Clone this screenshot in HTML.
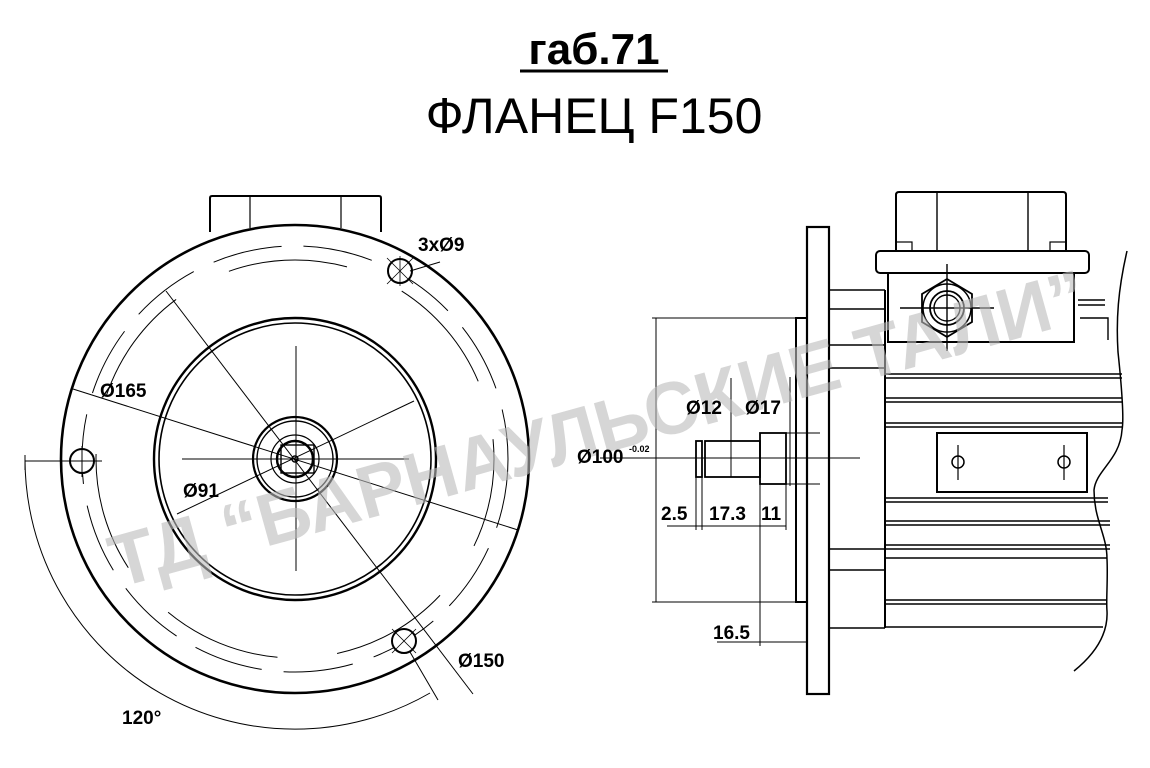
<!DOCTYPE html>
<html><head><meta charset="utf-8"><style>
html,body{margin:0;padding:0;background:#fff;}
svg{display:block;}
text{font-family:"Liberation Sans",Arial,sans-serif;fill:#000;}
</style></head><body>
<svg width="1150" height="768" viewBox="0 0 1150 768" xmlns="http://www.w3.org/2000/svg">

<!-- titles -->
<text x="594" y="64" font-size="44" font-weight="bold" text-anchor="middle">габ.71</text>
<line x1="520" y1="71" x2="668" y2="71" stroke="#000" stroke-width="3"/>
<text x="594" y="133" font-size="50" text-anchor="middle">ФЛАНЕЦ F150</text>

<g fill="none" stroke="#000">
<!-- LEFT VIEW -->
<path d="M210,232 V198 Q210,196 212,196 H379 Q381,196 381,198 V232" stroke-width="2"/>
<line x1="250" y1="196" x2="250" y2="228" stroke-width="1.2"/>
<line x1="341" y1="196" x2="341" y2="228" stroke-width="1.2"/>
<circle cx="295" cy="459" r="234" stroke-width="2.6"/>
<circle cx="295" cy="459" r="213" stroke-width="1" stroke-dasharray="70 22"/>
<circle cx="295" cy="459" r="199" stroke-width="1" stroke-dasharray="120 60" stroke-dashoffset="30"/>
<circle cx="295" cy="459" r="141" stroke-width="2.4"/>
<circle cx="295" cy="459" r="136" stroke-width="1.6"/>
<circle cx="295" cy="459" r="42" stroke-width="2.2"/>
<circle cx="295" cy="459" r="38" stroke-width="1.4"/>
<circle cx="295" cy="459" r="24" stroke-width="1.2"/>
<circle cx="295" cy="459" r="18" stroke-width="2.4"/>
<rect x="281" y="445" width="33" height="28" stroke-width="1.4"/>
<circle cx="295" cy="459" r="3" stroke-width="1.5"/>
<line x1="296" y1="346" x2="296" y2="571" stroke-width="1"/>
<line x1="182" y1="459" x2="409" y2="459" stroke-width="1"/>
<circle cx="82" cy="461" r="12" stroke-width="2" fill="#fff"/>
<line x1="64" y1="461" x2="102" y2="461" stroke-width="1"/>
<line x1="82" y1="446" x2="82" y2="477" stroke-width="1"/>
<circle cx="400" cy="271" r="12" stroke-width="2" fill="#fff"/>
<line x1="387" y1="258" x2="413" y2="284" stroke-width="0.8"/>
<line x1="387" y1="284" x2="413" y2="258" stroke-width="0.8"/>
<line x1="400" y1="256" x2="400" y2="286" stroke-width="0.8"/>
<circle cx="404" cy="641" r="12" stroke-width="2" fill="#fff"/>
<line x1="392" y1="629" x2="416" y2="653" stroke-width="0.8"/>
<line x1="392" y1="653" x2="416" y2="629" stroke-width="0.8"/>
<line x1="73" y1="389" x2="518" y2="530" stroke-width="1"/>
<line x1="177" y1="514" x2="414" y2="401" stroke-width="1"/>
<line x1="166" y1="291" x2="473" y2="694" stroke-width="1"/>
<line x1="410" y1="271" x2="440" y2="262" stroke-width="1"/>
<path d="M25,459 A270,270 0 0 0 430,693" stroke-width="1"/>
<line x1="25" y1="461" x2="70" y2="461" stroke-width="1"/>
<line x1="25" y1="455" x2="25" y2="470" stroke-width="1"/>
<line x1="410" y1="652" x2="438" y2="700" stroke-width="1"/>

<!-- RIGHT VIEW -->
<line x1="600" y1="458" x2="860" y2="458" stroke-width="1"/>
<rect x="807" y="227" width="22" height="467" stroke-width="2.2"/>
<rect x="796" y="318" width="11" height="284" stroke-width="2"/>
<path d="M829,290 H885 M829,309 H885 M829,345 H885 M829,368 H885" stroke-width="1.6"/>
<path d="M829,549 H885 M829,570 H885 M829,628 H885" stroke-width="1.6"/>
<line x1="885" y1="290" x2="885" y2="628" stroke-width="2"/>
<g stroke-width="1.4">
<path d="M885,374 H1122 M885,378 H1122 M885,398 H1122 M885,402 H1122 M885,423 H1122 M885,427 H1122"/>
<path d="M885,498 H1108 M885,502 H1108 M885,521 H1110 M885,525 H1110 M885,545 H1110 M885,549 H1110 M885,558 H1107"/>
<path d="M885,600 H1107 M885,604 H1107 M885,627 H1103"/>
</g>
<rect x="937" y="433" width="150" height="59" stroke-width="2"/>
<circle cx="958" cy="462" r="6" stroke-width="1.5"/>
<line x1="958" y1="445" x2="958" y2="480" stroke-width="1.2"/>
<circle cx="1064" cy="462" r="6" stroke-width="1.5"/>
<line x1="1064" y1="445" x2="1064" y2="480" stroke-width="1.2"/>
<path d="M896,251 V195 Q896,192 899,192 H1063 Q1066,192 1066,195 V251" stroke-width="2"/>
<line x1="937" y1="192" x2="937" y2="251" stroke-width="1.4"/>
<line x1="1028" y1="192" x2="1028" y2="251" stroke-width="1.4"/>
<rect x="896" y="242" width="16" height="9" stroke-width="1.2"/>
<rect x="1050" y="242" width="16" height="9" stroke-width="1.2"/>
<rect x="876" y="251" width="213" height="22" rx="4" stroke-width="2"/>
<path d="M888,273 V342 H1074 V273" stroke-width="2"/>
<polygon points="947,279 972,294 972,322 947,337 922,322 922,294" stroke-width="1.8"/>
<circle cx="947" cy="308" r="24" stroke-width="1.5"/>
<circle cx="947" cy="308" r="17" stroke-width="1.8"/>
<circle cx="947" cy="308" r="13" stroke-width="1.4"/>
<line x1="900" y1="308" x2="994" y2="308" stroke-width="1.4"/>
<line x1="947" y1="264" x2="947" y2="351" stroke-width="1.4"/>
<path d="M1078,300 H1105 M1078,305 H1105 M1080,318 H1108 V340" stroke-width="1.4"/>
<path d="M1127,251 C1118,290 1116,320 1118,352 C1122,390 1124,420 1122,430 C1120,460 1096,470 1094,490 C1094,520 1107,535 1107,559 C1108,580 1106,600 1107,611 C1108,630 1100,650 1074,671" stroke-width="1.5"/>

<g stroke-width="1">
<line x1="652" y1="318" x2="796" y2="318"/>
<line x1="652" y1="602" x2="796" y2="602"/>
<line x1="656" y1="318" x2="656" y2="602"/>
</g>
<rect x="696" y="441" width="6" height="36" stroke-width="1.8"/>
<rect x="705" y="441" width="55" height="36" stroke-width="1.8"/>
<rect x="760" y="433" width="26" height="51" stroke-width="1.8"/>
<g stroke-width="1">
<line x1="760" y1="433" x2="820" y2="433"/>
<line x1="760" y1="484" x2="820" y2="484"/>
<line x1="790" y1="377" x2="790" y2="486"/>
<line x1="731" y1="378" x2="731" y2="477"/>
<line x1="696" y1="477" x2="696" y2="530"/>
<line x1="702" y1="477" x2="702" y2="530"/>
<line x1="760" y1="484" x2="760" y2="646"/>
<line x1="786" y1="484" x2="786" y2="530"/>
<line x1="667" y1="526" x2="786" y2="526"/>
<line x1="717" y1="642" x2="806" y2="642"/>
</g>
</g>

<!-- watermark on top, semi-transparent -->
<text x="0" y="0" transform="translate(118,588) rotate(-15.5)" font-size="74" font-weight="bold" style="fill:#bbbbbb;fill-opacity:0.6" textLength="1010" lengthAdjust="spacingAndGlyphs">ТД “БАРНАУЛЬСКИЕ ТАЛИ”</text>

<!-- labels -->
<g font-size="19" font-weight="bold">
<text x="100" y="397">Ø165</text>
<text x="183" y="497">Ø91</text>
<text x="458" y="667">Ø150</text>
<text x="418" y="251">3xØ9</text>
<text x="122" y="724">120°</text>
<text x="686" y="414">Ø12</text>
<text x="745" y="414">Ø17</text>
<text x="577" y="463">Ø100</text>
<text x="629" y="452" font-size="9">-0.02</text>
<text x="661" y="520">2.5</text>
<text x="709" y="520">17.3</text>
<text x="761" y="520">11</text>
<text x="713" y="639">16.5</text>
</g>
</svg>
</body></html>
